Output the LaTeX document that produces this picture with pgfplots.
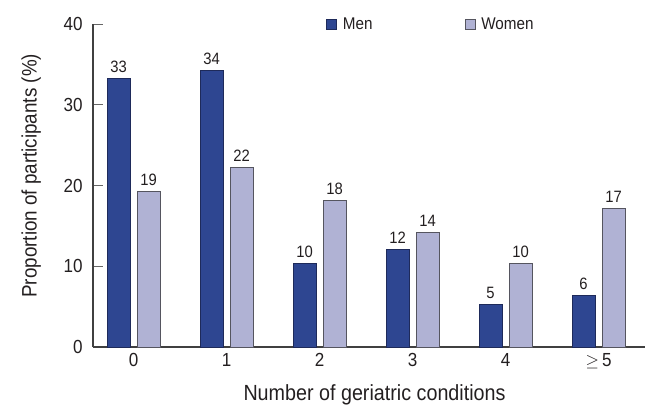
\documentclass[border=0pt]{standalone}
\usepackage{pgfplots}
\pgfplotsset{compat=1.18}
\usepackage{fontspec}
\setmainfont{Liberation Sans}[FakeStretch=0.9]
\definecolor{menblue}{RGB}{46,70,145}
\definecolor{menedge}{RGB}{30,42,90}
\definecolor{womenfill}{RGB}{176,178,212}
\definecolor{womenedge}{RGB}{85,85,95}
\definecolor{txt}{RGB}{35,31,32}

\begin{document}
\begin{tikzpicture}
\begin{axis}[
    name=ax,
    scale only axis,
    width=552bp, height=323bp,
    ybar=7bp, bar width=23bp,
    xmin=-0.436, xmax=5.5,
    ymin=0, ymax=40,
    xtick=data,
    xticklabels={0,1,2,3,4,$\geq$\,5},
    ytick={0,10,20,30,40},
    axis x line*=bottom, axis y line*=left,
    axis line style={draw=black!75, line width=1.2pt},
    x axis line style={-}, y axis line style={-},
    major x tick style={draw=none},
    major y tick style={draw=black!60, line width=1pt},
    tick align=inside, major tick length=10bp,
    /pgf/number format/assume math mode=true,
    yticklabel style={font=\fontsize{19}{22}\selectfont, text=txt, xshift=-7bp},
    xticklabel style={font=\fontsize{19}{22}\selectfont, text=txt, yshift=-3bp},
    ylabel={Proportion of participants (\%)},
    xlabel={Number of geriatric conditions},
    ylabel style={font=\fontsize{21}{24}\selectfont, text=txt,
        at={(axis description cs:-0.112,0.53)}, anchor=center},
    xlabel style={font=\fontsize{22}{24}\selectfont, text=txt,
        at={(axis description cs:0.51,0)}, anchor=base, yshift=-53bp},
    nodes near coords={\pgfmathprintnumber[fixed,precision=0]{\pgfplotspointmeta}},
    every node near coord/.append style={font=\fontsize{16.5}{19}\selectfont, text=txt, yshift=2bp},
    legend columns=-1,
    legend style={draw=none, fill=none, at={(rel axis cs:0.422,1)}, anchor=west,
        font=\fontsize{17}{20}\selectfont, text=txt, inner sep=0pt,
        /tikz/every odd column/.append style={column sep=4bp},
        /tikz/every even column/.append style={column sep=90bp}},
    legend image code/.code={\draw[#1,line width=0.8pt] (0bp,-5bp) rectangle (10bp,5bp);},
]
\addplot[fill=menblue, draw=menedge, line width=1pt] coordinates
    {(0,33.3) (1,34.3) (2,10.3) (3,12.1) (4,5.3) (5,6.4)};
\addplot[fill=womenfill, draw=womenedge, line width=1pt] coordinates
    {(0,19.2) (1,22.2) (2,18.2) (3,14.2) (4,10.3) (5,17.2)};
\legend{Men, Women}
\end{axis}
\pgfresetboundingbox
\useasboundingbox (ax.south west) ++(-93bp,-59bp) rectangle ([yshift=24bp]ax.north east);
\end{tikzpicture}
\end{document}
